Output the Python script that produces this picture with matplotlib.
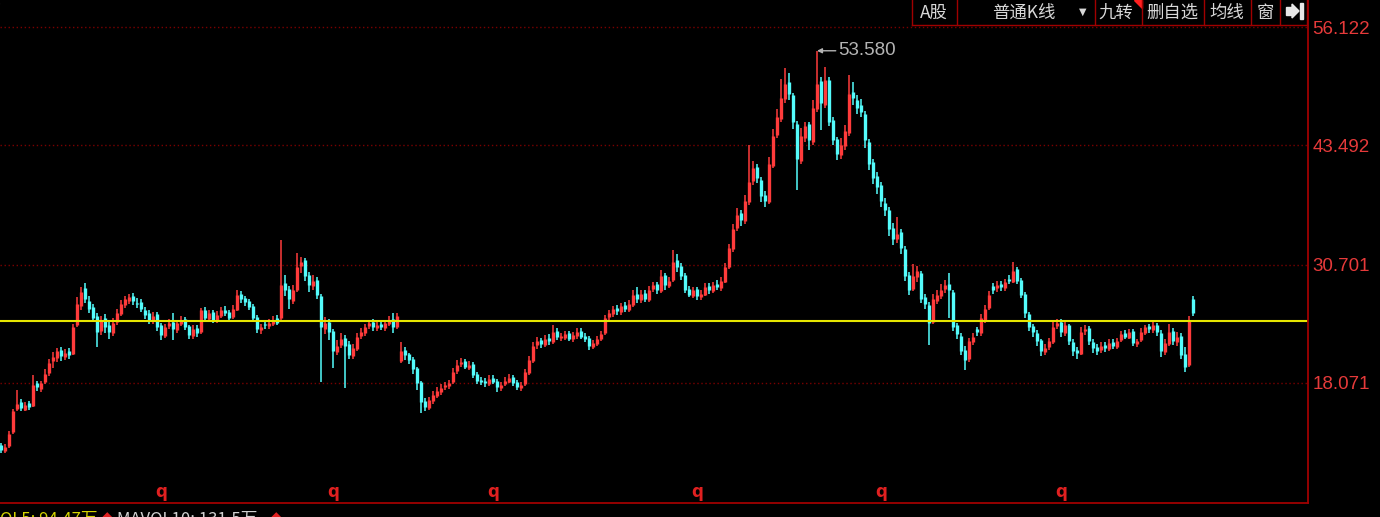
import numpy as np
import matplotlib.pyplot as plt
from matplotlib.patches import Polygon, Rectangle

plt.rcParams['font.family'] = ['Noto Sans CJK SC', 'DejaVu Sans']

# daily candles (one entry per ~4 px)
opens = [
    11.4, 10.8, 11.3, 12.8, 15.3, 16.0, 15.2, 15.9, 15.6, 18.0,
    17.4, 18.2, 19.1, 20.4, 20.7, 21.6, 20.8, 21.5, 21.1, 24.2,
    26.3, 28.2, 26.8, 26.2, 25.2, 23.6, 25.0, 24.2, 23.4, 24.6,
    25.4, 26.4, 26.8, 27.4, 26.6, 26.7, 25.9, 25.5, 24.7, 25.4,
    24.2, 23.1, 24.1, 24.6, 23.7, 24.4, 24.9, 24.1, 23.1, 23.9,
    23.5, 25.9, 24.9, 25.6, 24.7, 25.2, 25.9, 25.6, 25.1, 25.9,
    27.6, 27.1, 26.8, 26.3, 25.1, 23.7, 24.4, 24.1, 24.4, 25.0,
    25.0, 28.7, 28.1, 26.8, 28.0, 30.6, 31.2, 29.6, 28.4, 29.1,
    27.3, 23.8, 24.6, 23.6, 21.4, 22.1, 22.9, 22.2, 20.9, 21.7,
    23.1, 23.4, 24.1, 24.6, 23.9, 24.4, 23.9, 24.4, 24.9, 24.0,
    20.4, 21.6, 21.1, 20.6, 19.6, 18.1, 16.1, 15.4, 16.1, 16.7,
    17.1, 17.6, 17.7, 18.1, 19.3, 20.1, 20.4, 19.7, 20.1, 19.0,
    18.4, 18.3, 17.9, 18.6, 18.3, 17.5, 17.9, 18.2, 18.7, 18.1,
    17.5, 17.9, 19.1, 20.4, 22.1, 22.6, 22.1, 22.9, 22.4, 23.6,
    22.9, 22.9, 23.4, 22.7, 23.1, 23.6, 23.1, 22.9, 21.9, 22.2,
    22.7, 23.4, 25.1, 25.4, 26.1, 25.6, 26.4, 25.9, 26.4, 27.6,
    26.9, 27.7, 26.9, 28.1, 28.6, 27.9, 29.6, 28.4, 29.1, 31.2,
    30.6, 29.6, 28.1, 27.4, 28.1, 27.2, 27.5, 28.4, 27.9, 28.6,
    28.2, 28.9, 30.4, 32.4, 34.6, 36.2, 35.4, 37.4, 39.6, 41.2,
    39.8, 38.2, 37.4, 41.3, 44.6, 46.3, 48.4, 50.2, 48.8, 45.8,
    41.8, 44.3, 45.7, 43.8, 47.4, 50.3, 47.8, 50.4, 46.2, 44.1,
    42.4, 43.4, 44.8, 49.2, 48.3, 47.8, 46.8, 43.8, 41.7, 40.2,
    39.2, 37.3, 36.6, 34.6, 33.4, 34.2, 32.4, 29.6, 28.1, 29.4,
    29.8, 27.2, 26.4, 24.6, 26.8, 27.3, 28.1, 28.6, 27.8, 24.2,
    23.1, 21.6, 20.6, 22.4, 23.8, 23.4, 24.8, 26.1, 28.4, 28.2,
    28.6, 28.2, 29.2, 28.9, 30.2, 29.1, 27.6, 25.4, 24.1, 23.4,
    22.6, 21.4, 21.9, 22.4, 24.1, 24.6, 23.4, 24.2, 22.4, 21.6,
    21.2, 23.6, 23.9, 22.4, 21.9, 21.6, 22.1, 21.7, 22.4, 21.9,
    22.6, 23.4, 22.9, 23.6, 22.2, 22.6, 23.4, 24.1, 23.7, 24.3,
    23.4, 21.4, 22.2, 23.6, 22.4, 23.1, 21.1, 20.0, 27.0,
]
highs = [
    11.6, 11.5, 12.9, 15.3, 17.3, 16.3, 16.0, 16.1, 18.9, 18.3,
    18.3, 19.5, 20.6, 21.4, 21.8, 21.9, 21.7, 21.8, 24.4, 27.2,
    28.3, 28.7, 27.3, 26.5, 25.5, 25.2, 25.4, 24.6, 25.0, 26.0,
    26.9, 27.4, 27.6, 27.7, 27.1, 27.0, 26.2, 25.8, 25.6, 25.6,
    24.5, 24.4, 24.9, 25.5, 24.8, 25.2, 25.1, 24.3, 24.2, 24.3,
    26.1, 26.2, 25.9, 25.9, 25.7, 26.2, 26.3, 25.9, 26.4, 28.0,
    27.9, 27.4, 27.0, 26.5, 25.3, 24.4, 24.7, 24.9, 25.2, 25.3,
    33.3, 29.6, 28.4, 28.5, 32.0, 31.5, 31.4, 29.9, 29.6, 29.4,
    27.6, 25.1, 24.9, 23.8, 22.6, 23.4, 23.2, 22.5, 22.2, 23.4,
    23.9, 24.4, 24.8, 24.9, 24.7, 24.7, 24.8, 25.2, 25.5, 25.5,
    22.4, 21.9, 21.3, 20.8, 19.8, 18.3, 16.4, 16.6, 17.2, 17.6,
    17.9, 18.2, 18.4, 19.6, 20.5, 20.7, 20.6, 20.4, 20.3, 19.2,
    18.7, 18.6, 18.9, 18.9, 18.5, 18.2, 18.7, 19.0, 18.9, 18.4,
    18.2, 19.5, 20.9, 22.4, 23.0, 22.9, 23.2, 23.3, 24.2, 23.9,
    23.4, 23.6, 23.6, 23.5, 23.9, 23.9, 23.4, 23.1, 22.6, 23.1,
    23.6, 25.3, 25.8, 26.3, 26.4, 26.6, 26.7, 26.9, 28.0, 28.3,
    28.0, 28.0, 28.4, 28.9, 28.8, 30.1, 29.8, 29.4, 32.3, 31.8,
    30.9, 29.8, 28.4, 28.3, 28.3, 28.0, 28.7, 28.7, 28.9, 29.1,
    29.4, 30.9, 32.9, 35.0, 36.8, 36.6, 38.2, 43.5, 41.8, 41.5,
    40.1, 38.6, 42.2, 45.2, 47.3, 50.6, 51.7, 51.2, 49.1, 46.1,
    45.3, 46.0, 46.0, 48.3, 53.58, 50.8, 51.8, 50.8, 46.5, 44.4,
    44.2, 45.6, 51.0, 50.2, 48.8, 48.4, 47.1, 44.1, 42.0, 40.6,
    39.5, 37.8, 36.9, 35.2, 35.8, 34.5, 32.7, 29.9, 30.8, 30.6,
    30.0, 27.6, 26.7, 27.6, 28.0, 28.6, 29.1, 29.8, 28.0, 24.5,
    23.4, 22.0, 22.9, 23.4, 24.0, 25.4, 26.4, 27.9, 28.7, 29.0,
    29.0, 29.2, 29.6, 31.0, 30.5, 29.3, 27.8, 25.6, 24.4, 23.7,
    22.8, 22.2, 22.9, 24.6, 24.9, 24.9, 24.8, 24.4, 22.7, 21.9,
    24.0, 24.2, 24.1, 22.7, 22.2, 22.4, 22.4, 22.7, 22.7, 22.9,
    23.6, 23.7, 23.8, 23.8, 22.8, 23.9, 24.3, 24.4, 24.6, 24.5,
    23.7, 22.7, 24.4, 23.9, 23.5, 23.4, 21.9, 25.2, 27.3,
]
lows = [
    10.6, 10.6, 11.1, 12.6, 15.0, 15.1, 15.0, 15.2, 15.5, 17.2,
    17.1, 17.9, 18.8, 19.6, 20.3, 20.4, 20.5, 20.6, 21.0, 24.0,
    25.9, 26.6, 25.5, 24.6, 21.9, 23.2, 23.4, 22.8, 23.1, 24.3,
    25.2, 26.1, 26.5, 26.4, 26.1, 25.6, 24.9, 24.4, 24.4, 23.6,
    22.6, 22.9, 23.8, 22.6, 23.4, 24.1, 23.7, 22.7, 22.8, 23.0,
    23.3, 24.7, 24.6, 24.5, 24.5, 25.0, 25.2, 24.7, 24.9, 25.7,
    26.6, 26.3, 25.8, 24.7, 23.4, 23.3, 23.8, 23.8, 24.1, 24.2,
    24.8, 27.3, 26.0, 26.5, 27.8, 29.8, 29.0, 27.8, 28.0, 27.0,
    18.1, 23.3, 22.6, 19.7, 21.0, 21.8, 17.5, 20.6, 20.6, 21.5,
    22.8, 23.1, 23.8, 23.6, 23.6, 23.7, 23.6, 24.1, 23.4, 23.8,
    20.2, 20.5, 20.1, 19.0, 17.3, 14.8, 15.1, 15.2, 15.8, 16.4,
    16.8, 17.3, 17.4, 17.9, 19.0, 19.8, 19.5, 19.4, 18.6, 17.9,
    17.8, 17.6, 17.7, 17.9, 17.1, 17.2, 17.7, 18.0, 17.7, 17.3,
    17.2, 17.7, 18.9, 20.2, 21.7, 21.8, 21.9, 22.1, 22.2, 22.6,
    22.5, 22.6, 22.5, 22.4, 22.8, 22.7, 22.4, 21.6, 21.7, 22.0,
    22.5, 23.2, 24.8, 25.1, 25.3, 25.3, 25.6, 25.6, 26.2, 26.6,
    26.6, 26.7, 26.7, 27.8, 27.6, 27.7, 28.0, 28.2, 28.9, 29.9,
    29.1, 27.7, 27.2, 27.1, 26.9, 26.9, 27.3, 27.6, 27.7, 28.0,
    27.9, 28.7, 30.2, 32.1, 34.3, 34.8, 35.1, 37.1, 39.2, 39.4,
    37.4, 36.9, 37.2, 41.0, 44.2, 46.0, 48.0, 48.3, 45.2, 38.7,
    41.5, 43.8, 43.0, 43.5, 47.0, 45.1, 47.5, 45.5, 43.5, 41.9,
    42.0, 43.0, 44.5, 47.8, 46.8, 46.5, 43.2, 40.8, 39.3, 38.3,
    36.9, 35.9, 33.8, 32.8, 33.0, 31.8, 29.0, 27.5, 27.9, 28.8,
    26.6, 26.0, 22.1, 24.4, 26.5, 27.0, 27.7, 25.0, 23.6, 22.7,
    21.0, 19.4, 20.3, 22.1, 23.1, 23.1, 24.5, 25.8, 27.6, 27.8,
    27.9, 27.9, 28.6, 28.7, 28.6, 27.1, 25.0, 23.6, 23.0, 22.0,
    20.9, 21.0, 21.6, 22.2, 23.8, 23.0, 23.1, 22.1, 20.9, 20.6,
    21.0, 23.2, 22.1, 21.3, 21.0, 21.3, 21.4, 21.5, 21.7, 21.7,
    22.4, 22.7, 22.7, 22.0, 21.9, 22.4, 23.2, 23.4, 23.4, 23.1,
    20.8, 21.0, 22.0, 22.1, 22.0, 20.6, 19.2, 19.8, 25.2,
]
closes = [
    10.9, 11.2, 12.6, 15.0, 15.8, 15.4, 15.7, 15.5, 17.8, 17.6,
    18.0, 19.0, 20.2, 20.8, 21.5, 20.9, 21.3, 21.0, 24.0, 26.5,
    27.8, 27.0, 26.0, 25.0, 23.5, 24.8, 24.0, 23.5, 24.5, 25.5,
    26.5, 27.0, 27.2, 26.8, 26.5, 26.0, 25.3, 24.8, 25.2, 24.0,
    23.2, 24.0, 24.5, 23.8, 24.5, 24.8, 24.0, 23.2, 23.8, 23.4,
    25.8, 25.0, 25.5, 24.8, 25.3, 25.8, 25.5, 25.0, 26.0, 27.5,
    27.0, 26.7, 26.2, 25.0, 23.8, 24.0, 24.2, 24.5, 24.8, 24.5,
    28.5, 28.0, 27.0, 28.0, 30.5, 31.0, 29.5, 28.5, 29.0, 27.5,
    24.0, 24.5, 23.5, 21.5, 22.0, 22.8, 22.0, 21.0, 21.8, 23.0,
    23.5, 24.0, 24.5, 24.0, 24.3, 24.0, 24.5, 24.8, 24.0, 25.2,
    21.5, 21.0, 20.5, 19.5, 18.0, 16.0, 15.5, 16.2, 16.8, 17.2,
    17.5, 17.8, 18.0, 19.2, 20.0, 20.3, 19.8, 20.0, 18.9, 18.3,
    18.2, 18.0, 18.5, 18.2, 17.6, 17.8, 18.3, 18.6, 18.0, 17.6,
    17.8, 19.2, 20.5, 22.0, 22.5, 22.2, 22.8, 22.5, 23.5, 23.0,
    23.0, 23.3, 22.8, 23.2, 23.5, 23.0, 22.8, 22.0, 22.3, 22.8,
    23.3, 25.0, 25.5, 26.0, 25.7, 26.3, 26.0, 26.5, 27.5, 27.0,
    27.6, 27.0, 28.0, 28.5, 28.0, 29.5, 28.5, 29.0, 31.0, 30.5,
    29.5, 28.0, 27.5, 28.0, 27.3, 27.6, 28.3, 28.0, 28.5, 28.3,
    29.0, 30.5, 32.5, 34.5, 36.0, 35.5, 37.5, 39.5, 41.0, 40.0,
    38.0, 37.5, 41.5, 44.5, 46.5, 48.5, 50.0, 49.0, 46.0, 42.0,
    44.5, 45.5, 44.0, 47.5, 50.0, 48.0, 50.5, 46.0, 44.0, 42.5,
    43.5, 45.0, 49.0, 48.5, 47.5, 47.0, 44.0, 41.5, 40.0, 39.0,
    37.5, 36.5, 34.5, 33.5, 34.0, 32.5, 29.5, 28.0, 29.5, 30.0,
    27.0, 26.5, 24.5, 27.0, 27.5, 28.0, 28.5, 28.0, 24.0, 23.3,
    21.5, 20.5, 22.5, 23.0, 23.5, 25.0, 26.0, 27.5, 28.0, 28.5,
    28.3, 28.8, 29.0, 30.0, 29.0, 27.5, 25.5, 24.0, 23.5, 22.5,
    21.5, 21.8, 22.5, 24.0, 24.5, 23.5, 24.3, 22.5, 21.5, 21.3,
    23.5, 23.8, 22.5, 21.8, 21.5, 22.0, 21.8, 22.3, 22.0, 22.5,
    23.3, 23.0, 23.5, 22.3, 22.5, 23.5, 24.0, 23.8, 24.2, 23.5,
    21.5, 22.3, 23.5, 22.5, 23.0, 21.0, 19.8, 24.8, 25.5,
]

price_ticks = [18.071, 30.701, 43.492, 56.122]
ref_price = 24.7
q_marks = [40, 83, 123, 174, 220, 265]
toolbar_labels = ["A股", "普通K线", "九转", "删自选", "均线", "窗"]
vol_texts = ["OL5: 94.47万", "MAVOL10: 131.5万"]

RED = '#FF3b3b'
CYAN = '#54fcfc'
DARKRED = '#a00000'
W, H = 1380, 517


def fx(px):
    return px / W


def fy(py):
    return 1 - py / H


fig = plt.figure(figsize=(W / 100, H / 100), dpi=100, facecolor='black')
ax = fig.add_axes([0, 14 / H, 1308 / W, 503 / H])
ax.set_facecolor('black')

o = np.array(opens)
h = np.array(highs)
l = np.array(lows)
c = np.array(closes)
idx = np.arange(len(c))
col = np.where(c >= o, RED, CYAN)

ax.vlines(idx, l, h, colors=col, lw=1.1)
lo = np.minimum(o, c)
hi = np.maximum(np.maximum(o, c), lo + 0.12)
ax.vlines(idx, lo, hi, colors=col, lw=2.4, capstyle='butt')

for t in price_ticks:
    ax.axhline(t, color='#7a0000', lw=1.0, ls=(0, (1.0, 1.9)), zorder=0)
ax.axhline(ref_price, color='#e6e600', lw=1.5)

for q in q_marks:
    ax.text(q, 6.4, 'q', color='#e02020', fontsize=12, fontweight='bold',
            family='DejaVu Sans', ha='center', va='center')

pk = int(np.argmax(h))
ax.annotate(f'{h[pk]:.3f}', xy=(pk, h[pk]), xytext=(15.5, 0),
            textcoords='offset points', va='center', ha='left',
            color='#b4b4b4', fontsize=13.5, family='Liberation Sans',
            arrowprops=dict(arrowstyle='-|>', color='#b4b4b4', lw=1.0,
                            mutation_scale=7, shrinkA=0, shrinkB=0))

ax.set_xlim(-0.25, 326.75)
ax.set_ylim(5.21, 59.01)
ax.set_xticks([])
ax.yaxis.tick_right()
ax.set_yticks(price_ticks)
ax.set_yticklabels([f'{t:.3f}' for t in price_ticks], family='Liberation Sans')
ax.tick_params(axis='y', length=0, pad=3, labelcolor='#e63a3a', labelsize=13.5)
for s in ['top', 'left']:
    ax.spines[s].set_visible(False)
for s in ['right', 'bottom']:
    ax.spines[s].set_color(DARKRED)
    ax.spines[s].set_linewidth(1.3)

# toolbar at top right
edges = [912, 957, 1095, 1142, 1204, 1251, 1280, 1307]
for e in edges:
    fig.add_artist(plt.Line2D([fx(e), fx(e)], [fy(0), fy(25)], color=DARKRED, lw=1.0))
fig.add_artist(plt.Line2D([fx(912), fx(1307)], [fy(25), fy(25)], color=DARKRED, lw=1.0))
centers = [934, 1024, 1116, 1172, 1227, 1265]
for s, cx in zip(toolbar_labels, centers):
    fig.text(fx(cx), fy(13), s, ha='center', va='center', color='#d8d8d8', fontsize=12.5)
fig.text(fx(1083), fy(12), '▼', ha='center', va='center', color='#d8d8d8',
         fontsize=7, family='DejaVu Sans')
fig.add_artist(Polygon([[fx(1134), fy(0)], [fx(1142), fy(0)], [fx(1142), fy(8)]],
                       closed=True, color='#ff2020'))
fig.add_artist(Rectangle((fx(1286), fy(15)), fx(6), 8 / H, color='#e8e8e8'))
fig.add_artist(Polygon([[fx(1292), fy(4)], [fx(1299), fy(11)], [fx(1292), fy(18)]],
                       closed=True, color='#e8e8e8'))
fig.add_artist(Rectangle((fx(1300), fy(19)), fx(3), 16 / H, color='#e8e8e8'))

fig.text(fx(-3), fy(11), 'i', ha='left', va='center', color='#a0a0a0', fontsize=11)

# volume legend, cut by the bottom edge
fig.text(fx(0), fy(524), vol_texts[0], ha='left', va='baseline', color='#d4d400', fontsize=12)
fig.text(fx(101), fy(524), '◆', ha='left', va='baseline', color='#e02020', fontsize=9)
fig.text(fx(117), fy(524), vol_texts[1], ha='left', va='baseline', color='#d0d0d0', fontsize=12)
fig.text(fx(270), fy(524), '◆', ha='left', va='baseline', color='#e02020', fontsize=9)

fig.savefig('out.png', dpi=100, facecolor='black')
